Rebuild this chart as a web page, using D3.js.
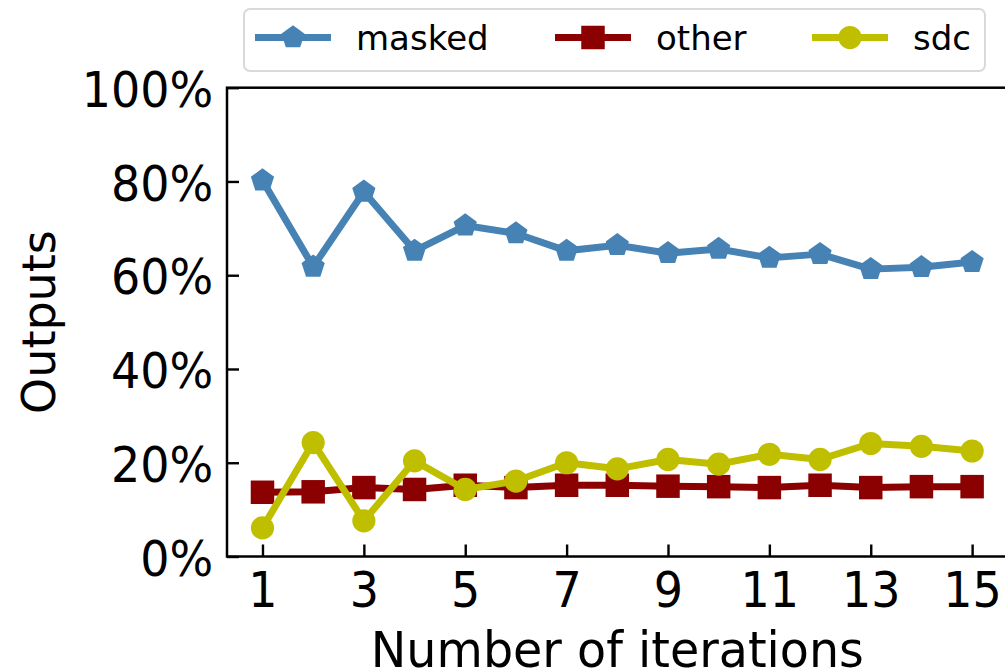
<!DOCTYPE html>
<html>
<head>
<meta charset="utf-8">
<script src="https://cdn.jsdelivr.net/npm/d3@7"></script>
<style>
  html, body { margin: 0; padding: 0; background: #fff; }
  svg { display: block; font-family: "DejaVu Sans", sans-serif; }
</style>
</head>
<body>
<svg id="chart" width="1005" height="672"></svg>
<script>
// ---- data ----
const iterations = [1, 2, 3, 4, 5, 6, 7, 8, 9, 10, 11, 12, 13, 14, 15];
const masked = [80.2, 61.8, 77.8, 65.2, 70.6, 68.9, 65.2, 66.4, 64.7, 65.6, 63.7, 64.5, 61.3, 61.7, 62.8];
const other  = [13.7, 13.8, 14.7, 14.3, 15.2, 14.7, 15.2, 15.2, 15.0, 14.9, 14.7, 15.2, 14.7, 14.9, 14.9];
const sdc    = [6.1, 24.3, 7.6, 20.4, 14.3, 16.1, 20.0, 18.7, 20.7, 19.7, 21.8, 20.7, 24.1, 23.5, 22.5];
const xTicks = [1, 3, 5, 7, 9, 11, 13, 15];
const yTicks = [0, 20, 40, 60, 80, 100];
const seriesNames = ["masked", "other", "sdc"];
const xLabel = "Number of iterations";
const yLabel = "Outputs";

const series = [
  { name: seriesNames[0], values: masked, color: "#4682B4", shape: "pentagon" },
  { name: seriesNames[1], values: other,  color: "#8B0000", shape: "square" },
  { name: seriesNames[2], values: sdc,    color: "#BFBF00", shape: "circle" }
];

// ---- layout ----
const svg = d3.select("#chart");
const mLeft = 227, mRight = 1007.6, mTop = 87.7, mBottom = 556.5;
const x = d3.scaleLinear().domain([0.3, 15.7]).range([mLeft, mRight]);
const y = d3.scaleLinear().domain([0, 100]).range([mBottom, mTop]);
const FS = 46, SY = 1.07;

// custom pentagon symbol
const pentagon = {
  draw(ctx, size) {
    const r = Math.sqrt(size);
    for (let i = 0; i < 5; i++) {
      const a = -Math.PI / 2 + i * 2 * Math.PI / 5;
      const px = r * Math.cos(a), py = r * Math.sin(a);
      if (i === 0) ctx.moveTo(px, py); else ctx.lineTo(px, py);
    }
    ctx.closePath();
  }
};
const symbolFor = {
  pentagon: d3.symbol().type(pentagon).size(12.2 * 12.2),
  square: d3.symbol().type(d3.symbolSquare).size(23.5 * 23.5),
  circle: d3.symbol().type(d3.symbolCircle).size(Math.PI * 11.6 * 11.6)
};

// ---- axes ----
const xAxis = d3.axisBottom(x).tickValues(xTicks).tickSizeInner(-12).tickSizeOuter(0).tickPadding(14)
  .tickFormat(d3.format("d"));
const gx = svg.append("g").attr("transform", `translate(0,${mBottom})`).call(xAxis);
gx.select(".domain").remove();
gx.selectAll(".tick line").attr("stroke", "#000").attr("stroke-width", 2.4);
gx.selectAll(".tick text").attr("font-size", FS).attr("fill", "#000")
  .attr("font-family", "DejaVu Sans").attr("dy", null).attr("y", 0)
  .attr("transform", `translate(0,50.2) scale(1,${SY})`);

const yAxis = d3.axisLeft(y).tickValues(yTicks).tickSizeInner(-12).tickSizeOuter(0).tickPadding(14)
  .tickFormat(d => d + "%");
const gy = svg.append("g").attr("transform", `translate(${mLeft},0)`).call(yAxis);
gy.select(".domain").remove();
gy.selectAll(".tick line").attr("stroke", "#000").attr("stroke-width", 2.4);
gy.selectAll(".tick text").attr("font-size", FS).attr("fill", "#000")
  .attr("font-family", "DejaVu Sans").attr("dy", null).attr("x", 0).attr("y", 0)
  .attr("transform", `translate(-13.7,18.7) scale(1,${SY})`);

// spines
svg.append("rect").attr("x", mLeft).attr("y", mTop).attr("width", mRight - mLeft).attr("height", mBottom - mTop)
  .attr("fill", "none").attr("stroke", "#000").attr("stroke-width", 2.5);

// axis labels
svg.append("text").attr("transform", `translate(${(mLeft + mRight) / 2},666.7) scale(1,1.055)`)
  .attr("text-anchor", "middle").attr("font-size", 47.6).attr("fill", "#000").text(xLabel);
svg.append("text").attr("transform", `translate(55,${(mTop + mBottom) / 2}) rotate(-90)`)
  .attr("text-anchor", "middle").attr("font-size", FS).attr("fill", "#000").text(yLabel);

// ---- series ----
const line = d3.line().x((d, i) => x(iterations[i])).y(d => y(d));
series.forEach(s => {
  const g = svg.append("g");
  g.append("path").attr("d", line(s.values)).attr("fill", "none")
    .attr("stroke", s.color).attr("stroke-width", 7).attr("stroke-linejoin", "round");
  g.selectAll("path.m").data(s.values).join("path").attr("class", "m")
    .attr("transform", (d, i) => `translate(${x(iterations[i])},${y(d)})`)
    .attr("d", symbolFor[s.shape]()).attr("fill", s.color);
});

// ---- legend ----
const lg = svg.append("g");
lg.append("rect").attr("x", 244).attr("y", 9).attr("width", 741).attr("height", 62).attr("rx", 6)
  .attr("fill", "#fff").attr("stroke", "#d9d9d9").attr("stroke-width", 2);
const legendX = [255, 555, 812];
series.forEach((s, i) => {
  const g = lg.append("g").attr("transform", `translate(${legendX[i]},37.5)`);
  g.append("line").attr("x1", 0).attr("x2", 76).attr("y1", 0).attr("y2", 0)
    .attr("stroke", s.color).attr("stroke-width", 7);
  g.append("path").attr("transform", "translate(38,0)").attr("d", symbolFor[s.shape]()).attr("fill", s.color);
  g.append("text").attr("x", 101).attr("y", 12.5).attr("font-size", 34).attr("fill", "#000").text(s.name);
});
</script>
</body>
</html>
